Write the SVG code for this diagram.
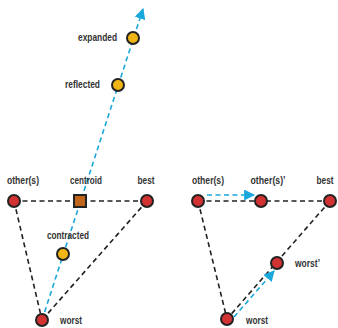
<svg xmlns="http://www.w3.org/2000/svg" width="338" height="328" viewBox="0 0 338 328">
<style>
.blk{stroke:#222;stroke-width:1.6;stroke-dasharray:5,3.5;fill:none}
.blu{stroke:#1aa8dc;stroke-width:1.6;stroke-dasharray:5,3.5;fill:none}
.red{fill:#d23232;stroke:#222;stroke-width:2}
.yel{fill:#f0b414;stroke:#222;stroke-width:2}
.sq{fill:#c0651c;stroke:#222;stroke-width:2}
text{font-family:"Liberation Sans",Arial,sans-serif;font-weight:bold;font-size:11px;fill:#333}
</style>
<defs>
<marker id="ah2" viewBox="0 0 10 10" refX="9" refY="5" markerWidth="11" markerHeight="11" orient="auto" markerUnits="userSpaceOnUse">
<path d="M0,0 L10,5 L0,10 z" fill="#1aa8dc"/>
</marker>
</defs>
<g id="connectors">
<line class="blk" x1="14" y1="201" x2="147" y2="201"/>
<line class="blk" x1="14" y1="201" x2="42" y2="320"/>
<line class="blk" x1="147" y1="201" x2="42" y2="320"/>
<line class="blu" x1="42" y1="320" x2="143" y2="9" marker-end="url(#ah2)"/>
<line class="blk" x1="198" y1="201" x2="330" y2="201"/>
<line class="blk" x1="198" y1="201" x2="227" y2="319"/>
<line class="blk" x1="330" y1="201" x2="227" y2="319"/>
<line class="blu" x1="207" y1="195" x2="254" y2="195" marker-end="url(#ah2)"/>
<line class="blu" x1="234" y1="317" x2="274" y2="271" marker-end="url(#ah2)"/>
</g>
<g id="left-others"><circle class="red" cx="14" cy="201" r="6"/><text x="23" y="184" text-anchor="middle" textLength="32" lengthAdjust="spacingAndGlyphs">other(s)</text></g>
<g id="centroid"><rect class="sq" x="74" y="195" width="12" height="12"/><text x="86" y="184" text-anchor="middle" textLength="32" lengthAdjust="spacingAndGlyphs">centroid</text></g>
<g id="left-best"><circle class="red" cx="147" cy="201" r="6"/><text x="146" y="184" text-anchor="middle" textLength="17" lengthAdjust="spacingAndGlyphs">best</text></g>
<g id="contracted"><circle class="yel" cx="63" cy="254" r="6"/><text x="68" y="239" text-anchor="middle" textLength="42" lengthAdjust="spacingAndGlyphs">contracted</text></g>
<g id="left-worst"><circle class="red" cx="42" cy="320" r="6"/><text x="60" y="324" textLength="22" lengthAdjust="spacingAndGlyphs">worst</text></g>
<g id="reflected"><circle class="yel" cx="118" cy="85" r="6"/><text x="100" y="88" text-anchor="end" textLength="35" lengthAdjust="spacingAndGlyphs">reflected</text></g>
<g id="expanded"><circle class="yel" cx="133" cy="38" r="6"/><text x="117" y="41" text-anchor="end" textLength="39" lengthAdjust="spacingAndGlyphs">expanded</text></g>
<g id="right-others"><circle class="red" cx="198" cy="201" r="6"/><text x="208" y="184" text-anchor="middle" textLength="32" lengthAdjust="spacingAndGlyphs">other(s)</text></g>
<g id="right-others-prime"><circle class="red" cx="261" cy="201" r="6"/><text x="268" y="184" text-anchor="middle" textLength="35" lengthAdjust="spacingAndGlyphs">other(s)’</text></g>
<g id="right-best"><circle class="red" cx="330" cy="201" r="6"/><text x="325" y="184" text-anchor="middle" textLength="17" lengthAdjust="spacingAndGlyphs">best</text></g>
<g id="right-worst-prime"><circle class="red" cx="277" cy="263" r="6"/><text x="295" y="267" textLength="25" lengthAdjust="spacingAndGlyphs">worst’</text></g>
<g id="right-worst"><circle class="red" cx="227" cy="319" r="6"/><text x="246" y="324" textLength="22" lengthAdjust="spacingAndGlyphs">worst</text></g>
</svg>
